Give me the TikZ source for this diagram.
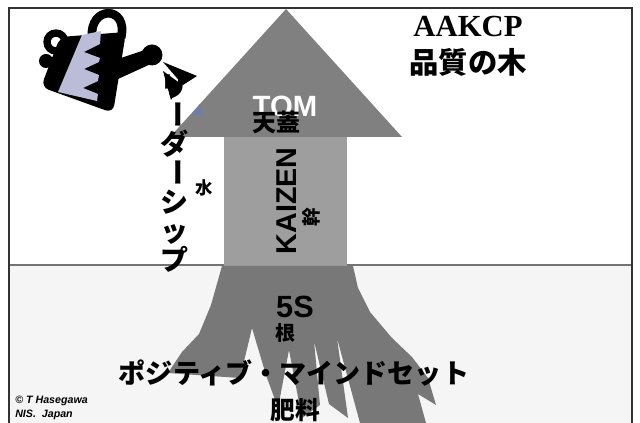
\documentclass[tikz,border=0pt]{standalone}
\usepackage{fontspec}
\setmainfont{Liberation Serif}
\newfontfamily\sans{Liberation Sans}
\newfontfamily\jp{Noto Sans CJK JP}
\definecolor{crown}{gray}{0.50}
\definecolor{trunk}{gray}{0.62}
\definecolor{roots}{gray}{0.47}
\definecolor{panel}{RGB}{186,188,216}
\definecolor{splash}{RGB}{110,125,172}
% long vowel mark standing upright in a vertical line of text
\newcommand\vbar{\raisebox{0.14em}{\rotatebox[origin=c]{-90}{ー}}}
\tikzset{
  jplabel/.style={font=\jp\bfseries, inner sep=0pt},
  latlabel/.style={font=\sans\bfseries, inner sep=0pt},
}

\begin{document}
\begin{tikzpicture}[x=0.75pt,y=-0.75pt]
			\useasboundingbox (0,0) rectangle (640,423);
			%%%%% START %%%%%
			
			% soil below the ground line
			\fill[black!4] (9,265) rectangle (632,423);
			\draw[black!55, line width=0.8] (9,265) -- (632,265);
			
			% crown
			\fill[crown] (286,9) -- (402,137) -- (170,137) -- cycle;
			\fill[splash] (191,115) -- (200,104) -- (202,115) -- cycle;
			
			% trunk
			\fill[trunk] (224,137) rectangle (347,266);
			
			% roots
			\fill[roots] (222,266) -- (353,266) -- (358,288) -- (370,312) -- (392,338)
				-- (412,357) -- (428,378) -- (436,405) -- (418,394) -- (426,423)
				-- (360,423) -- (337,338) -- (348,418) -- (329,404) -- (314,341)
				-- (320,405) -- (302,418) -- (289,350) -- (278,408) -- (266,375)
				-- (252,328) -- (240,378) -- (210,376) -- (168,373) -- (182,352)
				-- (199,334) -- (211,305) -- cycle;
			
			% watering can
			\draw[line width=6.5] (92,38) .. controls (89,5) and (129,5) .. (121,38);
			\draw[line width=5.5] (56,42) circle (9);
			\fill (46,61) circle (7);
			\fill[rounded corners=6] (60,37) -- (126,32) -- (113,113) -- (41,87) -- cycle;
			\fill (118,59) -- (148,49) -- (153,63) -- (118,79) -- cycle;
			\fill (152,55) circle (10.5);
			\fill[panel] (82,35) -- (101,31) -- (100,44) -- (84,52) -- (100,58) -- (99,62)
				-- (84,69) -- (99,75) -- (98,81) -- (83,88) -- (98,94) -- (97,101)
				-- (58,92) -- cycle;
			
			% leadership, running down beside the trunk
			\node[jplabel, align=center, font=\jp\bfseries\fontsize{21}{21.75}\selectfont]
				(lead) at (174,173) {リ\\\vbar\\ダ\\\vbar\\シ\\ッ\\プ};
			
			% water from the spout
			\fill (163,62) -- (197,76) -- (183,85) -- cycle;
			\fill (163,71) -- (171,100) -- (181,84) -- cycle;
			
			\node[jplabel, font=\jp\bfseries\fontsize{13}{13}\selectfont] (water) at (204,188) {水};
			
			% title
			\node[inner sep=0pt, font=\bfseries\fontsize{23}{23}\selectfont] (name) at (468,27) {AAKCP};
			\node[jplabel, font=\jp\bfseries\fontsize{22}{22}\selectfont] (title) at (468,62) {品質の木};
			
			% crown, trunk and root labels
			\node[latlabel, text=white, font=\sans\bfseries\fontsize{22}{22}\selectfont] (tqm) at (285,106) {TOM};
			\node[jplabel, font=\jp\bfseries\fontsize{18}{18}\selectfont] (canopy) at (276,122) {天蓋};
			\node[latlabel, rotate=90, font=\sans\bfseries\fontsize{21.5}{21.5}\selectfont] (kaizen) at (287,201) {KAIZEN};
			\node[jplabel, rotate=90, font=\jp\bfseries\fontsize{14}{14}\selectfont] (stem) at (311,217) {幹};
			\node[latlabel, font=\sans\bfseries\fontsize{23}{23}\selectfont] (fives) at (295,307) {5S};
			\node[jplabel, font=\jp\bfseries\fontsize{15}{15}\selectfont] (root) at (285,333) {根};
			\node[jplabel, font=\jp\bfseries\fontsize{20.3}{20.3}\selectfont] (mind) at (294,373) {ポジティブ・マインドセット};
			\node[jplabel, font=\jp\bfseries\fontsize{18.5}{18.5}\selectfont] (feed) at (295,410) {肥料};
			
			% credit
			\node[inner sep=0pt, anchor=north west, align=left,
				font=\sans\bfseries\itshape\fontsize{8}{10}\selectfont] (credit) at (15,396)
				{© T Hasegawa\\NIS.\ \ Japan};
			
			% frame
			\draw[black!80, line width=1.2] (9,423) -- (9,8) -- (632,8) -- (632,423);
			
			%%%%% END %%%%%
		\end{tikzpicture}
\end{document}
